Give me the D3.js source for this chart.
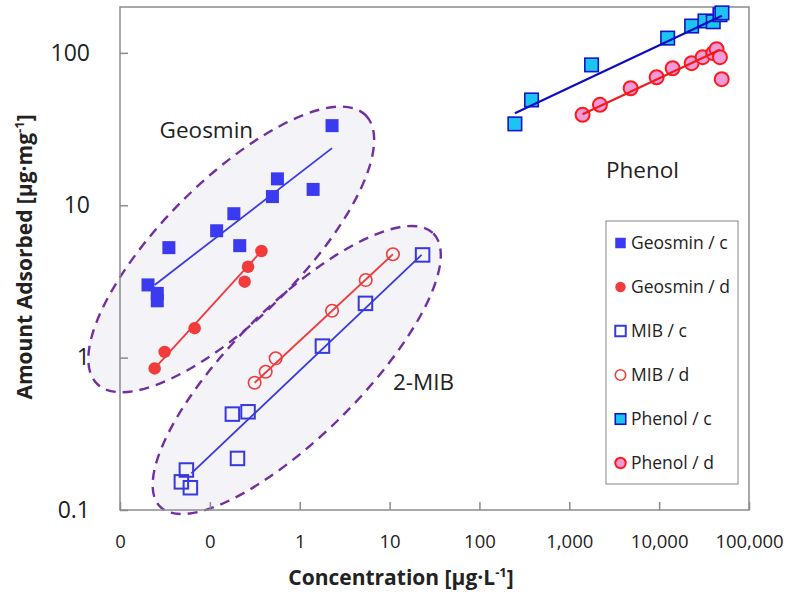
<!DOCTYPE html>
<html>
<head>
<meta charset="utf-8">
<script src="https://cdn.jsdelivr.net/npm/d3@7"></script>
<style>
  body { margin: 0; background: #fff; }
  svg { display: block; font-family: "Open Sans", "DejaVu Sans", sans-serif; }
</style>
</head>
<body>
<svg id="chart" width="788" height="596"></svg>
<script>
// Adsorption isotherms on a log–log grid:
// equilibrium concentration (µg/L) against amount adsorbed (µg/mg).

// ---- series data: [concentration, amount] ----
const geosminC = [[0.0205,3.0],[0.026,2.64],[0.026,2.36],[0.035,5.27],[0.119,6.8],[0.185,8.8],
                  [0.215,5.43],[0.497,11.4],[0.565,14.9],[1.41,12.7],[2.29,33.3]];
const geosminD = [[0.0243,0.85],[0.0314,1.09],[0.0677,1.56],[0.244,3.15],[0.266,3.95],[0.375,5.01]];
const mibC     = [[0.0482,0.153],[0.0548,0.183],[0.0607,0.140],[0.178,0.426],[0.203,0.218],
                  [0.266,0.441],[1.79,1.19],[5.39,2.27],[23.3,4.72]];
const mibD     = [[0.315,0.684],[0.418,0.808],[0.54,0.99],[2.29,2.03],[5.43,3.23],[10.9,4.77]];
const phenolC  = [[248,34.2],[380,49.1],[1770,83.4],[12440,125],[23000,150],[32400,162],
                  [40000,160],[47500,178],[50000,183]];
const phenolD  = [[1406,39.2],[2193,45.6],[4818,58.6],[9380,69.2],[14130,79.3],[23000,85.6],
                  [30500,93.7],[40000,99.6],[43600,105.8],[47500,93.7],[49700,67.2]];

// ---- fitted isotherm lines: start and end [concentration, amount] ----
const geosminCFit = [[0.0243,3.0],[2.29,23.7]];
const geosminDFit = [[0.0243,0.85],[0.375,5.0]];
const mibCFit     = [[0.0622,0.174],[22.7,4.72]];
const mibDFit     = [[0.315,0.684],[10.9,4.77]];
const phenolCFit  = [[248,40.2],[50000,175]];
const phenolDFit  = [[1406,39.5],[47500,105]];

// ---- compound groupings (ellipse centre, upper-right tip, minor/major ratio) ----
const groupNames   = ["Geosmin", "2-MIB"];
const groupCenters = [[0.173,5.13],[0.926,0.829]];
const groupTips    = [[5.41,39],[30.7,6.53]];
const groupAspect  = [0.363, 0.335];

// ---- annotation labels ----
const noteTexts = ["Geosmin", "2-MIB", "Phenol"];
const notePos   = [[0.0276,27.7],[10.9,0.61],[2557,15.1]];

// ---- axes ----
const xTicks = [0.01, 0.1, 1, 10, 100, 1000, 10000, 100000];
const yTicks = [0.1, 1, 10, 100];
const legendLabels = ["Geosmin / c","Geosmin / d","MIB / c","MIB / d","Phenol / c","Phenol / d"];

// ---- look of each series ----
const seriesData = [geosminC, geosminD, mibC, mibD, phenolC, phenolD];
const seriesFits = [geosminCFit, geosminDFit, mibCFit, mibDFit, phenolCFit, phenolDFit];
const styles = [
  { shape: "square", size: 13, fill: "#3a3af0", stroke: "none", sw: 0,   line: "#3a3ae8", lw: 1.8 },
  { shape: "circle", size: 12.5, fill: "#f23c3c", stroke: "none", sw: 0, line: "#f03a3a", lw: 1.8 },
  { shape: "square", size: 13.5, fill: "none", stroke: "#3838e0", sw: 2, line: "#3838e0", lw: 1.8 },
  { shape: "circle", size: 12.5, fill: "none", stroke: "#f03c3c", sw: 1.6, line: "#f03c3c", lw: 1.8 },
  { shape: "square", size: 13.5, fill: "#1cc4f2", stroke: "#1414c8", sw: 1.6, line: "#0c0cc4", lw: 2.2 },
  { shape: "circle", size: 14, fill: "#f59ad8", stroke: "#ff1a1a", sw: 2, line: "#ee1c1c", lw: 2.2 }
];

const svg = d3.select("#chart");
const plotL = 120, plotR = 749, plotT = 7, plotB = 510;

const x = d3.scaleLog().domain([0.01, 100000]).range([plotL, plotR]);
const y = d3.scaleLog().domain([0.1, 200]).range([plotB, plotT]);

// grouping ellipses: fills first, dashed outlines on top so both stay visible where they overlap
const ellipseGeom = groupNames.map((name, i) => {
  const cx = x(groupCenters[i][0]), cy = y(groupCenters[i][1]);
  const tx = x(groupTips[i][0]),    ty = y(groupTips[i][1]);
  const a = Math.hypot(tx - cx, ty - cy);
  return { cx, cy, a, b: a * groupAspect[i], ang: Math.atan2(ty - cy, tx - cx) * 180 / Math.PI };
});
const groups = svg.append("g");
ellipseGeom.forEach(e => {
  groups.append("ellipse")
    .attr("rx", e.a).attr("ry", e.b)
    .attr("transform", `translate(${e.cx},${e.cy}) rotate(${e.ang})`)
    .attr("fill", "#f3f3f8").attr("stroke", "none");
});
ellipseGeom.forEach(e => {
  groups.append("ellipse")
    .attr("rx", e.a).attr("ry", e.b)
    .attr("transform", `translate(${e.cx},${e.cy}) rotate(${e.ang})`)
    .attr("fill", "none")
    .attr("stroke", "#7030a0")
    .attr("stroke-width", 2.4)
    .attr("stroke-dasharray", "10,7");
});

// frame
svg.append("rect")
  .attr("x", plotL).attr("y", plotT)
  .attr("width", plotR - plotL).attr("height", plotB - plotT)
  .attr("fill", "none").attr("stroke", "#8c8c8c").attr("stroke-width", 1.5);

// x axis
const xAxis = svg.append("g")
  .attr("transform", `translate(0,${plotB})`)
  .call(d3.axisBottom(x).tickValues(xTicks).tickFormat(d3.format(",.0f"))
        .tickSizeInner(-8).tickSizeOuter(0).tickPadding(25));
xAxis.select(".domain").remove();
xAxis.selectAll(".tick line").attr("stroke", "#8c8c8c").attr("stroke-width", 1.5);
xAxis.selectAll("text").attr("font-size", 18.5).attr("fill", "#222")
  .attr("font-family", "Open Sans");

// y axis
const yAxis = svg.append("g")
  .attr("transform", `translate(${plotL},0)`)
  .call(d3.axisLeft(y).tickValues(yTicks).tickFormat(d => String(d))
        .tickSizeInner(-8).tickSizeOuter(0).tickPadding(30));
yAxis.select(".domain").remove();
yAxis.selectAll(".tick line").attr("stroke", "#8c8c8c").attr("stroke-width", 1.5);
yAxis.selectAll("text").attr("font-size", 23).attr("fill", "#222")
  .attr("font-family", "Open Sans");

// markers
function drawMarker(sel, st, px, py, size) {
  if (st.shape === "square") {
    sel.append("rect")
      .attr("x", px - size / 2).attr("y", py - size / 2)
      .attr("width", size).attr("height", size)
      .attr("fill", st.fill).attr("stroke", st.stroke).attr("stroke-width", st.sw);
  } else {
    sel.append("circle")
      .attr("cx", px).attr("cy", py).attr("r", size / 2)
      .attr("fill", st.fill).attr("stroke", st.stroke).attr("stroke-width", st.sw);
  }
}

const marks = svg.append("g");
seriesData.forEach((data, i) => {
  const g = marks.append("g");
  data.forEach(d => drawMarker(g, styles[i], x(d[0]), y(d[1]), styles[i].size));
});

// fitted lines
const line = d3.line().x(d => x(d[0])).y(d => y(d[1]));
seriesFits.forEach((fit, i) => {
  svg.append("path")
    .attr("d", line(fit))
    .attr("fill", "none")
    .attr("stroke", styles[i].line)
    .attr("stroke-width", styles[i].lw);
});

// annotations
noteTexts.forEach((t, i) => {
  svg.append("text")
    .attr("x", x(notePos[i][0])).attr("y", y(notePos[i][1]))
    .attr("font-size", 22.5).attr("fill", "#222")
    .text(t);
});

// legend
const lg = svg.append("g");
lg.append("rect")
  .attr("x", 606).attr("y", 221).attr("width", 132).attr("height", 263)
  .attr("fill", "#fff").attr("stroke", "#999").attr("stroke-width", 1.2);
legendLabels.forEach((lab, i) => {
  const cy = 243 + i * 44;
  drawMarker(lg, styles[i], 620.5, cy, 10.5);
  lg.append("text")
    .attr("x", 631).attr("y", cy).attr("dy", "0.36em")
    .attr("font-size", 17.5).attr("fill", "#222")
    .text(lab);
});

// axis titles
const xt = svg.append("text")
  .attr("x", 401).attr("y", 585)
  .attr("text-anchor", "middle")
  .attr("font-size", 21).attr("font-weight", "bold").attr("fill", "#222");
xt.append("tspan").text("Concentration [µg·L");
xt.append("tspan").attr("font-size", 13).attr("dy", -8).text("-1");
xt.append("tspan").attr("dy", 8).text("]");

const yt = svg.append("text")
  .attr("transform", "translate(32,257) rotate(-90)")
  .attr("text-anchor", "middle")
  .attr("font-size", 21).attr("font-weight", "bold").attr("fill", "#222");
yt.append("tspan").text("Amount Adsorbed [µg·mg");
yt.append("tspan").attr("font-size", 13).attr("dy", -8).text("-1");
yt.append("tspan").attr("dy", 8).text("]");
</script>
</body>
</html>
